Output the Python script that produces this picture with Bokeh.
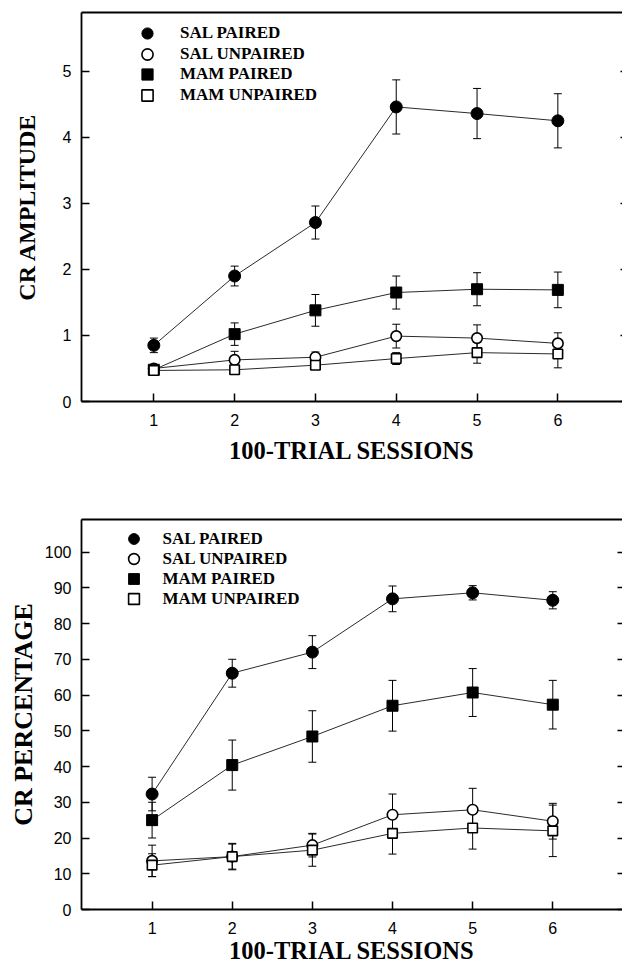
from bokeh.plotting import figure
from bokeh.models import (Range1d, LinearAxis, FixedTicker, Whisker, TeeHead,
                          ColumnDataSource, Legend, LegendItem)
from bokeh.layouts import column
from bokeh.embed import file_html
from bokeh.resources import INLINE

sessions = [1, 2, 3, 4, 5, 6]
series_names = ["SAL PAIRED", "SAL UNPAIRED", "MAM PAIRED", "MAM UNPAIRED"]

# CR amplitude (top panel)
amp_sal_paired = [0.85, 1.90, 2.71, 4.46, 4.36, 4.25]
amp_sal_paired_err = [0.11, 0.15, 0.25, 0.41, 0.38, 0.41]
amp_sal_unpaired = [0.50, 0.63, 0.67, 0.99, 0.96, 0.88]
amp_sal_unpaired_err = [0.05, 0.13, 0.08, 0.18, 0.20, 0.16]
amp_mam_paired = [0.48, 1.02, 1.38, 1.65, 1.70, 1.69]
amp_mam_paired_err = [0.08, 0.17, 0.24, 0.25, 0.25, 0.27]
amp_mam_unpaired = [0.47, 0.48, 0.55, 0.65, 0.74, 0.72]
amp_mam_unpaired_err = [0.04, 0.04, 0.06, 0.09, 0.16, 0.21]

# CR percentage (bottom panel)
pct_sal_paired = [32.3, 66.1, 72.0, 86.9, 88.6, 86.5]
pct_sal_paired_err = [4.7, 3.9, 4.6, 3.6, 2.0, 2.4]
pct_sal_unpaired = [13.6, 14.8, 18.0, 26.5, 27.9, 24.7]
pct_sal_unpaired_err = [4.4, 3.7, 3.3, 5.8, 6.0, 5.0]
pct_mam_paired = [25.0, 40.4, 48.4, 57.0, 60.7, 57.3]
pct_mam_paired_err = [5.0, 7.0, 7.2, 7.1, 6.7, 6.8]
pct_mam_unpaired = [12.4, 14.8, 16.6, 21.3, 22.8, 22.0]
pct_mam_unpaired_err = [3.2, 3.5, 4.5, 5.8, 5.9, 7.2]

amp_ticks = [0, 1, 2, 3, 4, 5]
pct_ticks = [0, 10, 20, 30, 40, 50, 60, 70, 80, 90, 100]

SERIF = "Liberation Serif"
SANS = "Liberation Sans"

marker_styles = [
    dict(marker="circle", size=12, fill_color="black", line_color="black", line_width=1),
    dict(marker="circle", size=10.5, fill_color="white", line_color="black", line_width=1.6),
    dict(marker="square", size=11, fill_color="black", line_color="black", line_width=1),
    dict(marker="square", size=9.5, fill_color="white", line_color="black", line_width=1.6),
]


def make_chart(height, xr, yr, ticks, ytitle, ytitle_size, values, errors,
               border_left, border_top, border_bottom, xlabel_standoff,
               ylabel_standoff, leg_x, leg_y0, leg_pitch, legend_glyph,
               legend_standoff, right_tick_in):
    p = figure(width=622, height=height, x_range=Range1d(*xr), y_range=Range1d(*yr),
               output_backend="svg", toolbar_location=None,
               min_border_left=border_left, min_border_right=0,
               min_border_top=border_top, min_border_bottom=border_bottom)
    p.grid.visible = False
    p.outline_line_color = None
    p.background_fill_color = "white"
    p.border_fill_color = "white"

    xa = p.xaxis[0]
    xa.ticker = FixedTicker(ticks=sessions)
    ya = p.yaxis[0]
    ya.ticker = FixedTicker(ticks=ticks)
    for ax in (xa, ya):
        ax.axis_line_width = 1.8
        ax.axis_line_color = "black"
        ax.major_tick_in = 8
        ax.major_tick_out = 0
        ax.major_tick_line_width = 1.5
        ax.major_tick_line_color = "black"
        ax.minor_tick_line_color = None
        ax.major_label_text_font = SANS
        ax.major_label_text_font_size = "16px"
        ax.major_label_text_color = "black"
        ax.axis_label_text_font = SERIF
        ax.axis_label_text_font_style = "bold"
        ax.axis_label_text_color = "black"
    xa.major_label_standoff = 12
    ya.major_label_standoff = 10
    xa.axis_label = "100-TRIAL SESSIONS"
    xa.axis_label_text_font_size = "24.5px"
    xa.axis_label_standoff = xlabel_standoff
    ya.axis_label = ytitle
    ya.axis_label_text_font_size = ytitle_size
    ya.axis_label_standoff = ylabel_standoff

    top = LinearAxis(ticker=FixedTicker(ticks=[]), major_label_text_font_size="1px",
                     major_label_text_color=None,
                     axis_line_width=1.8, axis_line_color="black",
                     major_tick_line_color=None, minor_tick_line_color=None)
    p.add_layout(top, "above")
    right = LinearAxis(ticker=FixedTicker(ticks=ticks), major_label_text_font_size="1px",
                       major_label_text_color=None,
                       axis_line_color=None, major_tick_in=right_tick_in, major_tick_out=0,
                       major_tick_line_width=1.5, major_tick_line_color="black",
                       minor_tick_line_color=None, major_label_standoff=0)
    p.add_layout(right, "right")

    srcs = []
    for v, e in zip(values, errors):
        srcs.append(ColumnDataSource(dict(x=sessions, y=v,
                                          upper=[a + b for a, b in zip(v, e)],
                                          lower=[a - b for a, b in zip(v, e)])))
    for s in srcs:
        p.line("x", "y", source=s, line_color="#2a2a2a", line_width=1)
    for s in srcs:
        p.add_layout(Whisker(source=s, base="x", upper="upper", lower="lower",
                             dimension="height", line_color="black", line_width=1,
                             upper_head=TeeHead(size=8, line_width=1, line_color="black"),
                             lower_head=TeeHead(size=8, line_width=1, line_color="black")))
    renderers = []
    for s, st in zip(srcs, marker_styles):
        renderers.append(p.scatter("x", "y", source=s, **st))

    # one single-row legend per series so that the rows can sit closer than the glyph box
    for i, (n, r) in enumerate(zip(series_names, renderers)):
        leg = Legend(items=[LegendItem(label=n, renderers=[r])],
                     location=(leg_x, leg_y0 - i * leg_pitch),
                     border_line_color=None, background_fill_alpha=0,
                     padding=0, margin=0, spacing=0,
                     glyph_width=legend_glyph, glyph_height=legend_glyph,
                     label_standoff=legend_standoff, label_height=18,
                     label_text_font=SERIF, label_text_font_style="bold",
                     label_text_font_size="17px", label_text_color="black")
        p.add_layout(leg)
    return p


p1 = make_chart(480, (0.105, 6.80), (0, 5.89), amp_ticks, "CR AMPLITUDE", "24px",
                [amp_sal_paired, amp_sal_unpaired, amp_mam_paired, amp_mam_unpaired],
                [amp_sal_paired_err, amp_sal_unpaired_err, amp_mam_paired_err, amp_mam_unpaired_err],
                81, 12, 79, 8, 20, 52, 354.0, 20.67, 28, 19, 2)
p2 = make_chart(486, (0.119, 6.87), (0, 109.1), pct_ticks, "CR PERCENTAGE", "26px",
                [pct_sal_paired, pct_sal_unpaired, pct_mam_paired, pct_mam_unpaired],
                [pct_sal_paired_err, pct_sal_unpaired_err, pct_mam_paired_err, pct_mam_unpaired_err],
                76, 39, 57, 0, 4, 38.5, 357.0, 20.1, 27, 16, 5)

layout = column(p1, p2, spacing=0)
open("out.html", "w").write(file_html(layout, INLINE))
